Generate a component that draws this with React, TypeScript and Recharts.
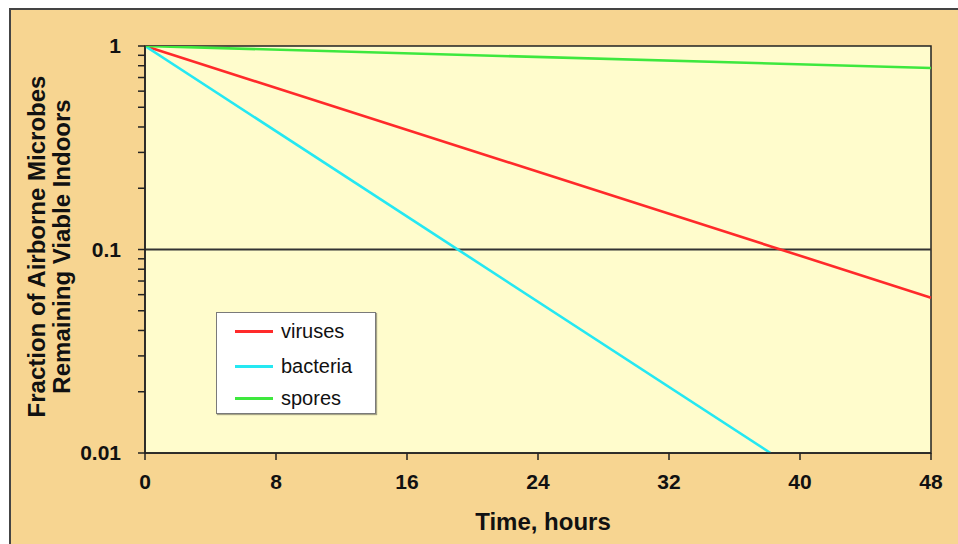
import React from 'react';
import {
  LineChart,
  Line,
  XAxis,
  YAxis,
  CartesianGrid,
  ReferenceLine,
  ReferenceArea,
  Legend,
} from 'recharts';

// readings: hours vs fraction still viable
const virusHours = [0, 48];
const virusFraction = [1, 0.058];
const bacteriaHours = [0, 38.2];
const bacteriaFraction = [1, 0.01];
const sporeHours = [0, 48];
const sporeFraction = [1, 0.78];

const xTicks = [0, 8, 16, 24, 32, 40, 48];
const yTicks = [
  0.01, 0.02, 0.03, 0.04, 0.05, 0.06, 0.07, 0.08, 0.09,
  0.1, 0.2, 0.3, 0.4, 0.5, 0.6, 0.7, 0.8, 0.9, 1,
];
const yTickLabels: Record<string, string> = { '0.01': '0.01', '0.1': '0.1', '1': '1' };

const toPoints = (hours: number[], fraction: number[]) =>
  hours.map((h, i) => ({ hours: h, fraction: fraction[i] }));

const series = [
  { name: 'viruses', color: '#ff2a2a', data: toPoints(virusHours, virusFraction) },
  { name: 'bacteria', color: '#25e8f2', data: toPoints(bacteriaHours, bacteriaFraction) },
  { name: 'spores', color: '#3ee83e', data: toPoints(sporeHours, sporeFraction) },
];

const LegendBox = () => (
  <div
    style={{
      width: 160,
      height: 102,
      boxSizing: 'border-box',
      background: '#ffffff',
      border: '1.5px solid #7a7a7a',
      boxShadow: '1px 1px 1px rgba(0,0,0,0.35)',
      position: 'relative',
    }}
  >
    {series.map((s, i) => (
      <div
        key={s.name}
        style={{
          position: 'absolute',
          left: 18,
          top: [18, 53, 85][i] - 12,
          height: 24,
          display: 'flex',
          alignItems: 'center',
        }}
      >
        <span style={{ width: 38, height: 3, background: s.color, display: 'inline-block' }} />
        <span style={{ marginLeft: 8, fontSize: 20, color: '#111', lineHeight: '24px' }}>{s.name}</span>
      </div>
    ))}
  </div>
);

const YLabel = ({ viewBox }: any) => {
  const cy = viewBox.y + viewBox.height / 2 - 3;
  return (
    <g>
      {['Fraction of Airborne Microbes', 'Remaining Viable Indoors'].map((t, i) => (
        <text
          key={t}
          x={25 + i * 25}
          y={cy}
          transform={`rotate(-90, ${25 + i * 25}, ${cy})`}
          textAnchor="middle"
          dominantBaseline="central"
          fontSize={24}
          fontWeight="bold"
          fill="#111"
        >
          {t}
        </text>
      ))}
    </g>
  );
};

const XLabel = ({ viewBox }: any) => (
  <text
    x={viewBox.x + viewBox.width / 2 + 5}
    y={viewBox.y + 77}
    textAnchor="middle"
    fontSize={24}
    fontWeight="bold"
    fill="#111"
  >
    Time, hours
  </text>
);

export default function App() {
  return (
    <div
      style={{
        position: 'absolute',
        left: 9,
        top: 8,
        width: 949,
        height: 536,
        boxSizing: 'border-box',
        borderTop: '2px solid #444',
        borderLeft: '2px solid #444',
        background: '#f7d591',
        fontFamily: '"Liberation Sans", Arial, sans-serif',
      }}
    >
      <LineChart
        width={947}
        height={534}
        margin={{ top: 36, right: 27, bottom: 0, left: 0 }}
        style={{ position: 'absolute', left: 0, top: 0 }}
      >
        <CartesianGrid fill="#fffccc" fillOpacity={1} horizontal={false} vertical={false} />
        <XAxis
          dataKey="hours"
          type="number"
          domain={[0, 48]}
          ticks={xTicks}
          interval={0}
          height={91}
          tickSize={7}
          tickMargin={14}
          axisLine={{ stroke: '#222', strokeWidth: 1.5 }}
          tickLine={{ stroke: '#222', strokeWidth: 1.5 }}
          tick={{ fill: '#111', fontSize: 21, fontWeight: 'bold' }}
          label={<XLabel />}
        />
        <YAxis
          type="number"
          scale="log"
          domain={[0.01, 1]}
          ticks={yTicks}
          interval={0}
          width={134}
          tickSize={7}
          tickMargin={17}
          allowDataOverflow
          axisLine={{ stroke: '#222', strokeWidth: 1.5 }}
          tickLine={{ stroke: '#222', strokeWidth: 1.5 }}
          tick={{ fill: '#111', fontSize: 21, fontWeight: 'bold' }}
          tickFormatter={(v: number) => yTickLabels[String(v)] ?? ''}
          label={<YLabel />}
        />
        <ReferenceArea
          x1={0}
          x2={48}
          y1={0.01}
          y2={1}
          fill="none"
          stroke="#222"
          strokeWidth={1.5}
        />
        <ReferenceLine y={0.1} stroke="#333" strokeWidth={2} />
        {series.map((s) => (
          <Line
            key={s.name}
            data={s.data}
            dataKey="fraction"
            name={s.name}
            stroke={s.color}
            strokeWidth={2.6}
            dot={false}
            activeDot={false}
            isAnimationActive={false}
          />
        ))}
        <Legend
          layout="vertical"
          align="center"
          verticalAlign="middle"
          content={<LegendBox />}
          wrapperStyle={{ left: 205, top: 302, width: 160, height: 102 }}
        />
      </LineChart>
    </div>
  );
}
